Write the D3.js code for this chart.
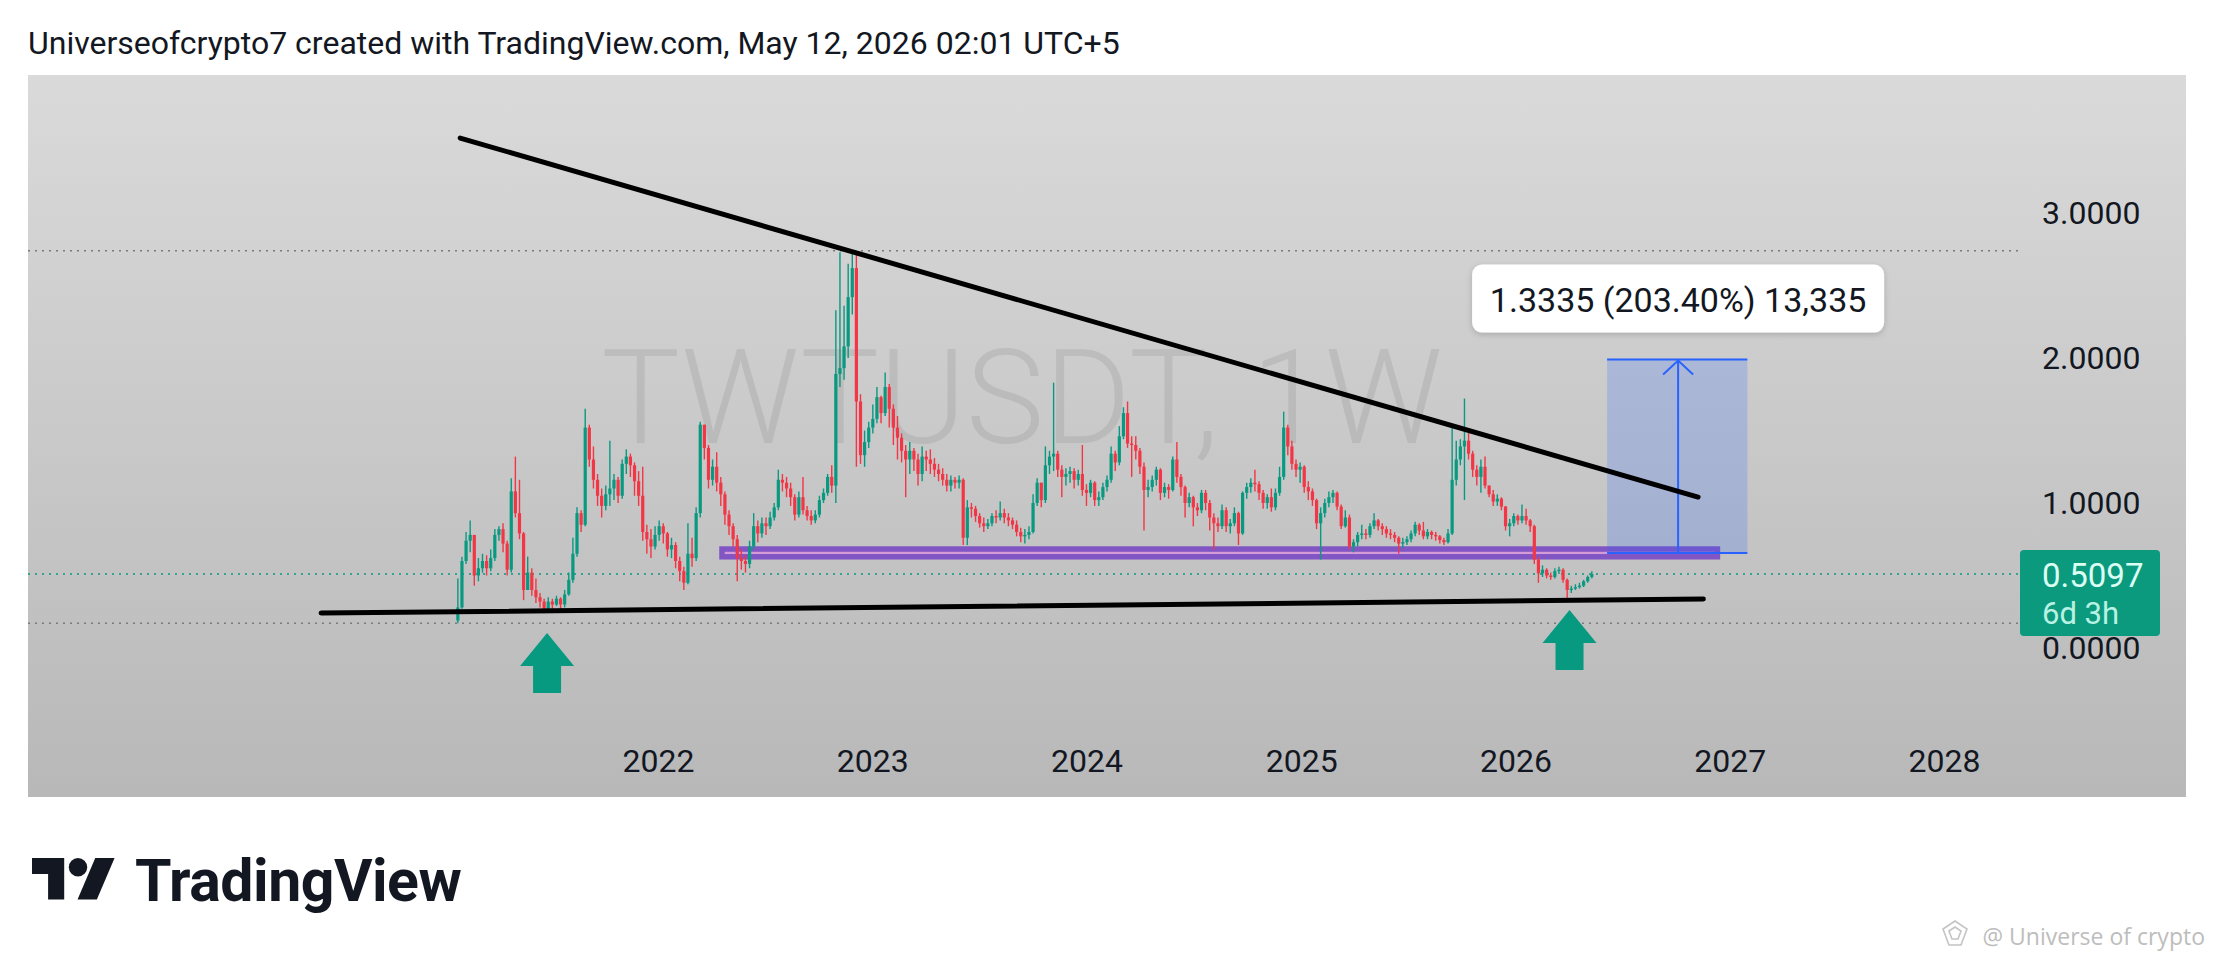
<!DOCTYPE html>
<html>
<head>
<meta charset="utf-8">
<script src="https://cdn.jsdelivr.net/npm/d3@7"></script>
<style>
  body { margin: 0; background: #fff; }
  svg { display: block; font-family: Roboto, "Noto Sans", sans-serif; }
</style>
</head>
<body>
<svg id="chart" width="2214" height="963"></svg>
<script>
// weekly TWTUSDT candles, first bar opens week of 2021-01-25, open = previous close
const firstWeek = '2021-01-25';
const firstOpen = 0.19;

const closes = [
  0.28,0.60,0.74,0.78,0.50,0.55,0.60,0.55,0.62,0.78,
  0.82,0.72,0.54,1.08,0.93,0.79,0.40,0.52,0.40,0.35,
  0.32,0.27,0.32,0.30,0.34,0.30,0.37,0.47,0.65,0.93,
  0.85,1.52,1.30,1.16,1.05,0.98,1.06,1.10,1.16,1.05,
  1.27,1.32,1.26,1.15,1.05,0.80,0.75,0.70,0.78,0.84,
  0.79,0.68,0.71,0.60,0.53,0.45,0.65,0.62,0.93,1.54,
  1.38,1.16,1.25,1.14,1.06,0.92,0.84,0.75,0.62,0.60,
  0.58,0.70,0.84,0.79,0.86,0.84,0.90,0.97,1.16,1.14,
  1.10,1.04,0.92,1.04,0.95,0.91,0.88,0.92,1.02,1.07,
  1.18,1.12,1.89,1.93,2.08,2.42,2.62,1.70,1.33,1.42,
  1.52,1.58,1.73,1.62,1.80,1.65,1.52,1.45,1.36,1.30,
  1.36,1.30,1.20,1.32,1.30,1.27,1.23,1.20,1.16,1.12,
  1.16,1.14,1.16,0.76,0.97,0.96,0.91,0.86,0.84,0.86,
  0.91,0.90,0.93,0.90,0.88,0.85,0.80,0.77,0.78,0.80,
  1.00,1.14,1.02,1.26,1.32,1.34,1.23,1.18,1.20,1.22,
  1.16,1.20,1.09,1.07,1.14,1.02,1.04,1.11,1.16,1.34,
  1.28,1.46,1.62,1.41,1.40,1.36,1.25,1.09,1.11,1.16,
  1.23,1.07,1.11,1.09,1.30,1.18,1.11,1.00,1.04,0.97,
  0.95,1.07,1.00,0.90,0.86,0.84,0.95,0.84,0.86,0.93,
  0.79,1.07,1.11,1.14,1.13,1.07,1.00,1.04,0.97,1.07,
  1.18,1.52,1.39,1.27,1.23,1.25,1.11,1.08,1.02,0.86,
  0.93,1.00,1.04,1.07,0.975,0.84,0.90,0.70,0.73,0.78,
  0.79,0.78,0.84,0.88,0.84,0.82,0.79,0.78,0.76,0.72,
  0.73,0.75,0.79,0.85,0.81,0.77,0.80,0.78,0.77,0.745,
  0.73,0.79,1.16,1.30,1.39,1.43,1.34,1.23,1.18,1.25,
  1.12,1.06,1.01,1.03,0.975,0.84,0.86,0.91,0.88,0.91,
  0.88,0.84,0.61,0.515,0.54,0.50,0.49,0.53,0.54,0.47,
  0.40,0.41,0.42,0.43,0.46,0.49,0.5097
];

const highs = [
  0.48,0.63,0.80,0.88,0.78,0.62,0.65,0.64,0.68,0.82,
  0.84,0.86,0.74,1.17,1.32,1.16,0.80,0.63,0.55,0.48,
  0.38,0.34,0.35,0.34,0.36,0.35,0.40,0.52,0.76,0.97,
  0.95,1.65,1.54,1.39,1.20,1.10,1.12,1.43,1.20,1.18,
  1.30,1.37,1.34,1.28,1.22,1.25,0.85,0.82,0.84,0.88,
  0.86,0.80,0.76,0.73,0.63,0.56,0.86,0.76,0.97,1.56,
  1.52,1.40,1.30,1.35,1.18,1.08,0.95,0.86,0.78,0.68,
  0.64,0.74,0.93,0.88,0.90,0.90,0.94,1.00,1.23,1.20,
  1.18,1.14,1.06,1.08,1.18,0.98,0.95,0.95,1.05,1.10,
  1.20,1.26,2.33,2.73,2.36,2.65,2.74,2.73,1.75,1.50,
  1.56,1.68,1.80,1.74,1.90,1.82,1.68,1.60,1.48,1.40,
  1.42,1.38,1.34,1.39,1.36,1.37,1.31,1.27,1.24,1.20,
  1.19,1.18,1.19,1.17,1.02,1.00,0.98,0.93,0.90,0.89,
  0.93,0.95,1.01,0.96,0.93,0.90,0.88,0.83,0.82,0.84,
  1.06,1.17,1.14,1.39,1.36,1.83,1.36,1.26,1.24,1.25,
  1.24,1.23,1.40,1.13,1.16,1.15,1.08,1.14,1.19,1.39,
  1.36,1.53,1.66,1.70,1.46,1.46,1.38,1.28,1.16,1.19,
  1.25,1.24,1.14,1.13,1.32,1.42,1.20,1.12,1.07,1.05,
  1.00,1.09,1.09,1.02,0.93,0.90,0.99,0.97,0.89,0.97,
  0.94,1.08,1.14,1.17,1.23,1.15,1.09,1.06,1.10,1.10,
  1.25,1.63,1.54,1.43,1.30,1.28,1.26,1.15,1.10,1.03,
  0.97,1.03,1.08,1.09,1.08,0.99,0.95,0.92,0.75,0.80,
  0.85,0.82,0.86,0.93,0.89,0.86,0.84,0.82,0.80,0.77,
  0.76,0.77,0.81,0.87,0.86,0.87,0.82,0.81,0.80,0.78,
  0.76,0.82,1.53,1.43,1.44,1.72,1.49,1.36,1.26,1.30,
  1.32,1.12,1.09,1.06,1.04,0.98,0.89,0.93,0.92,0.99,
  0.96,0.89,0.85,0.63,0.57,0.55,0.52,0.55,0.56,0.55,
  0.48,0.43,0.44,0.45,0.47,0.50,0.53
];

const lows = [
  0.17,0.27,0.58,0.66,0.43,0.46,0.52,0.50,0.53,0.60,
  0.74,0.66,0.50,0.52,0.90,0.75,0.33,0.40,0.36,0.31,
  0.28,0.24,0.26,0.27,0.29,0.26,0.28,0.36,0.45,0.63,
  0.80,0.84,1.25,1.10,0.98,0.90,0.95,0.98,1.02,1.00,
  1.03,1.20,1.18,1.05,0.98,0.74,0.65,0.62,0.68,0.74,
  0.72,0.63,0.62,0.55,0.46,0.40,0.44,0.56,0.60,0.90,
  1.30,1.10,1.12,1.08,0.98,0.85,0.78,0.70,0.46,0.54,
  0.52,0.55,0.68,0.73,0.76,0.78,0.82,0.88,0.95,1.08,
  1.04,0.98,0.88,0.90,0.92,0.88,0.85,0.86,0.90,1.00,
  1.05,1.07,1.00,1.80,1.85,2.00,2.30,1.25,1.27,1.25,
  1.38,1.48,1.55,1.55,1.60,1.52,1.40,1.30,1.28,1.04,
  1.20,1.22,1.12,1.15,1.22,1.20,1.18,1.15,1.12,1.08,
  1.08,1.10,1.10,0.71,0.71,0.90,0.87,0.83,0.80,0.82,
  0.84,0.86,0.88,0.86,0.84,0.82,0.77,0.73,0.72,0.75,
  0.79,0.98,0.97,1.00,1.20,1.22,1.18,1.04,1.12,1.14,
  1.10,1.12,1.05,0.98,1.04,0.98,0.98,1.02,1.08,1.14,
  1.22,1.26,1.44,1.38,1.18,1.30,1.20,0.81,1.04,1.08,
  1.12,1.02,1.04,1.03,1.08,1.14,1.05,0.90,0.97,0.84,
  0.91,0.93,0.95,0.81,0.68,0.80,0.82,0.80,0.79,0.84,
  0.71,0.78,1.03,1.07,1.08,1.02,0.96,0.96,0.94,0.95,
  1.05,1.16,1.33,1.23,1.18,1.14,1.07,1.02,0.98,0.82,
  0.61,0.90,0.97,1.00,0.95,0.82,0.83,0.68,0.66,0.70,
  0.75,0.75,0.76,0.82,0.81,0.78,0.76,0.75,0.73,0.65,
  0.69,0.71,0.73,0.77,0.78,0.75,0.75,0.75,0.74,0.72,
  0.71,0.72,0.78,1.12,1.26,1.02,1.30,1.18,1.12,1.07,
  1.10,1.04,0.98,0.98,0.95,0.81,0.77,0.84,0.85,0.86,
  0.85,0.80,0.58,0.45,0.49,0.48,0.47,0.48,0.51,0.45,
  0.33,0.38,0.40,0.41,0.42,0.45,0.48
];

const yearTicks = [2022, 2023, 2024, 2025, 2026, 2027, 2028];
const priceTicks = [0, 1, 2, 3];
const countdown = '6d 3h';

// drawings: [date, price]
const upperTrend = [['2021-01-29', 3.517], ['2026-11-08', 1.041]];
const lowerTrend = [['2020-06-06', 0.241], ['2026-11-17', 0.338]];
const zoneDates = ['2022-04-20', '2026-12-11'];
const zonePrices = [0.629, 0.6825];
const rangeDates = ['2026-06-06', '2027-01-31'];
const rangeArrowDate = '2026-10-05';
const rangePrices = [0.6556, 1.9891];
const signalArrows = [['2021-06-26', 0.103], ['2026-04-03', 0.262]];

const title = 'Universeofcrypto7 created with TradingView.com, May 12, 2026 02:01 UTC+5';
const symbolText = 'TWTUSDT, 1W';

const up = '#089981', down = '#f23645';
const parse = d3.utcParse('%Y-%m-%d');
const t0 = parse(firstWeek);

const candles = closes.map((c, i) => {
  const o = i === 0 ? firstOpen : closes[i - 1];
  return {
    date: d3.utcWeek.offset(t0, i),
    open: o, close: c,
    high: Math.max(highs[i], o, c),
    low: Math.min(lows[i], o, c)
  };
});

const svg = d3.select('#chart');

const panel = { x0: 28, x1: 2186, y0: 75, y1: 797 };

const x = d3.scaleUtc()
  .domain([Date.UTC(2022, 0, 1), Date.UTC(2028, 0, 1)])
  .range([658, 1944]);
const y = d3.scaleLinear().domain([0, 3]).range([648, 213]);

// background
const defs = svg.append('defs');
const grad = defs.append('linearGradient').attr('id', 'bg')
  .attr('x1', 0).attr('y1', 0).attr('x2', 0).attr('y2', 1);
grad.append('stop').attr('offset', 0).attr('stop-color', '#dadada');
grad.append('stop').attr('offset', 1).attr('stop-color', '#b8b8b8');
const shadow = defs.append('filter').attr('id', 'shadow')
  .attr('x', -0.1).attr('y', -0.3).attr('width', 1.2).attr('height', 1.6);
shadow.append('feDropShadow').attr('dx', 0).attr('dy', 2).attr('stdDeviation', 3)
  .attr('flood-color', '#000').attr('flood-opacity', 0.18);

svg.append('text')
  .attr('x', 28).attr('y', 54)
  .attr('font-size', 32).attr('fill', '#131722')
  .text(title);

svg.append('rect')
  .attr('x', panel.x0).attr('y', panel.y0)
  .attr('width', panel.x1 - panel.x0).attr('height', panel.y1 - panel.y0)
  .attr('fill', 'url(#bg)');

// symbol watermark
svg.append('text')
  .attr('x', 1022).attr('y', 443)
  .attr('text-anchor', 'middle')
  .attr('font-size', 132).attr('font-weight', 300)
  .attr('fill', '#8a8a8a').attr('fill-opacity', 0.24)
  .text(symbolText);

// high / low / last price lines
const lastPrice = closes[closes.length - 1];
const hiLo = [
  { p: d3.max(candles, d => d.high), c: '#7a7a7a' },
  { p: d3.min(candles, d => d.low), c: '#7a7a7a' },
  { p: lastPrice, c: up }
];
svg.append('g').selectAll('line').data(hiLo).join('line')
  .attr('x1', panel.x0).attr('x2', 2018)
  .attr('y1', d => y(d.p)).attr('y2', d => y(d.p))
  .attr('stroke', d => d.c).attr('stroke-width', 1.5)
  .attr('stroke-dasharray', '2 5');

// support zone (under the candles)
svg.append('rect')
  .attr('x', x(parse(zoneDates[0])))
  .attr('y', y(zonePrices[1]))
  .attr('width', x(parse(zoneDates[1])) - x(parse(zoneDates[0])))
  .attr('height', y(zonePrices[0]) - y(zonePrices[1]))
  .attr('fill', '#d59bd8')
  .attr('stroke', '#8156c4').attr('stroke-width', 5.5);

// candles
const bw = 3.2;
const cg = svg.append('g');
cg.selectAll('line').data(candles).join('line')
  .attr('x1', d => x(d.date)).attr('x2', d => x(d.date))
  .attr('y1', d => y(d.high)).attr('y2', d => y(d.low))
  .attr('stroke', d => d.close >= d.open ? up : down)
  .attr('stroke-width', 1.4);
cg.selectAll('rect').data(candles).join('rect')
  .attr('x', d => x(d.date) - bw / 2)
  .attr('y', d => y(Math.max(d.open, d.close)))
  .attr('width', bw)
  .attr('height', d => Math.max(1, Math.abs(y(d.open) - y(d.close))))
  .attr('fill', d => d.close >= d.open ? up : down);

// price range measurement
const rx0 = x(parse(rangeDates[0])), rx1 = x(parse(rangeDates[1]));
const ryLo = y(rangePrices[0]), ryHi = y(rangePrices[1]);
const blue = '#2962ff';
svg.append('rect')
  .attr('x', rx0).attr('y', ryHi)
  .attr('width', rx1 - rx0).attr('height', ryLo - ryHi)
  .attr('fill', blue).attr('fill-opacity', 0.2);
svg.append('g').selectAll('line').data([ryHi, ryLo]).join('line')
  .attr('x1', rx0).attr('x2', rx1)
  .attr('y1', d => d).attr('y2', d => d)
  .attr('stroke', blue).attr('stroke-width', 2);
const ax = x(parse(rangeArrowDate));
svg.append('line')
  .attr('x1', ax).attr('x2', ax).attr('y1', ryLo).attr('y2', ryHi + 1)
  .attr('stroke', blue).attr('stroke-width', 2);
svg.append('polyline')
  .attr('points', [[ax - 15, ryHi + 15], [ax, ryHi + 1], [ax + 15, ryHi + 15]].join(' '))
  .attr('fill', 'none').attr('stroke', blue).attr('stroke-width', 2);

const diff = rangePrices[1] - rangePrices[0];
const rangeLabel = d3.format('.4f')(diff) + ' (' + d3.format('.2f')(diff / rangePrices[0] * 100) +
  '%) ' + d3.format(',')(Math.round(diff / 0.0001));
const lw = 412;
svg.append('rect')
  .attr('x', ax - lw / 2).attr('y', ryHi - 95)
  .attr('width', lw).attr('height', 68).attr('rx', 10)
  .attr('fill', '#fff').attr('filter', 'url(#shadow)');
svg.append('text')
  .attr('x', ax).attr('y', ryHi - 48)
  .attr('text-anchor', 'middle')
  .attr('font-size', 34).attr('fill', '#131722')
  .text(rangeLabel);

// trend lines
const trend = d3.line().x(d => x(parse(d[0]))).y(d => y(d[1]));
svg.append('g').selectAll('path').data([upperTrend, lowerTrend]).join('path')
  .attr('d', trend)
  .attr('fill', 'none').attr('stroke', '#000')
  .attr('stroke-width', 5).attr('stroke-linecap', 'round');

// signal arrows
const arrowShape = [[0, 0], [27, 33], [14, 33], [14, 60], [-14, 60], [-14, 33], [-27, 33]];
svg.append('g').selectAll('path').data(signalArrows).join('path')
  .attr('transform', d => `translate(${x(parse(d[0]))},${y(d[1])})`)
  .attr('d', d3.line()(arrowShape) + 'Z')
  .attr('fill', '#089981');

// axes
const xAxis = svg.append('g')
  .attr('transform', 'translate(0,749)')
  .call(d3.axisBottom(x)
    .tickValues(yearTicks.map(yr => Date.UTC(yr, 0, 1)))
    .tickFormat(d3.utcFormat('%Y'))
    .tickSize(0).tickPadding(0));
xAxis.select('.domain').remove();
xAxis.selectAll('text').attr('font-size', 32).attr('fill', '#131722')
  .attr('font-family', 'Roboto, sans-serif');

const yAxis = svg.append('g')
  .attr('transform', 'translate(2042,0)')
  .call(d3.axisRight(y)
    .tickValues(priceTicks)
    .tickFormat(d3.format('.4f'))
    .tickSize(0).tickPadding(0));
yAxis.select('.domain').remove();
yAxis.selectAll('text').attr('font-size', 32).attr('fill', '#131722')
  .attr('font-family', 'Roboto, sans-serif');

// last price label
const ly = y(lastPrice);
svg.append('rect')
  .attr('x', 2020).attr('y', ly - 24)
  .attr('width', 140).attr('height', 86).attr('rx', 4)
  .attr('fill', '#0c9a7f');
svg.append('text')
  .attr('x', 2042).attr('y', ly + 13)
  .attr('font-size', 33).attr('fill', '#dcfff4')
  .text(d3.format('.4f')(lastPrice));
svg.append('text')
  .attr('x', 2042).attr('y', ly + 50)
  .attr('font-size', 31).attr('fill', '#b9f2e2')
  .text(countdown);

// TradingView logo
const logo = svg.append('g').attr('transform', 'translate(32,848.8) scale(2.3)').attr('fill', '#131722');
logo.append('path').attr('d', 'M14 22H7V11H0V4h14v18z');
logo.append('circle').attr('cx', 20).attr('cy', 8).attr('r', 4);
logo.append('path').attr('d', 'M28.2 22h-8.4l7.7-18h8.4z');
svg.append('text')
  .attr('x', 135).attr('y', 901)
  .attr('font-size', 59).attr('font-weight', 700)
  .attr('letter-spacing', -0.5)
  .attr('fill', '#131722')
  .text('TradingView');

// author watermark
const wm = svg.append('g').attr('transform', 'translate(1955,935)')
  .attr('fill', 'none').attr('stroke', '#c4c4c4').attr('stroke-width', 1.6);
wm.append('path').attr('d', 'M-12 -6 L0 -14 L12 -6 L6 10 L-6 10 Z');
wm.append('path').attr('d', 'M-6 -4 L0 -8 L6 -4 L3 4 L-3 4 Z');
svg.append('text')
  .attr('x', 2205).attr('y', 945)
  .attr('text-anchor', 'end')
  .attr('font-family', '"Open Sans", sans-serif')
  .attr('font-size', 23).attr('fill', '#bdbdbd')
  .text('@ Universe of crypto');
</script>
</body>
</html>
